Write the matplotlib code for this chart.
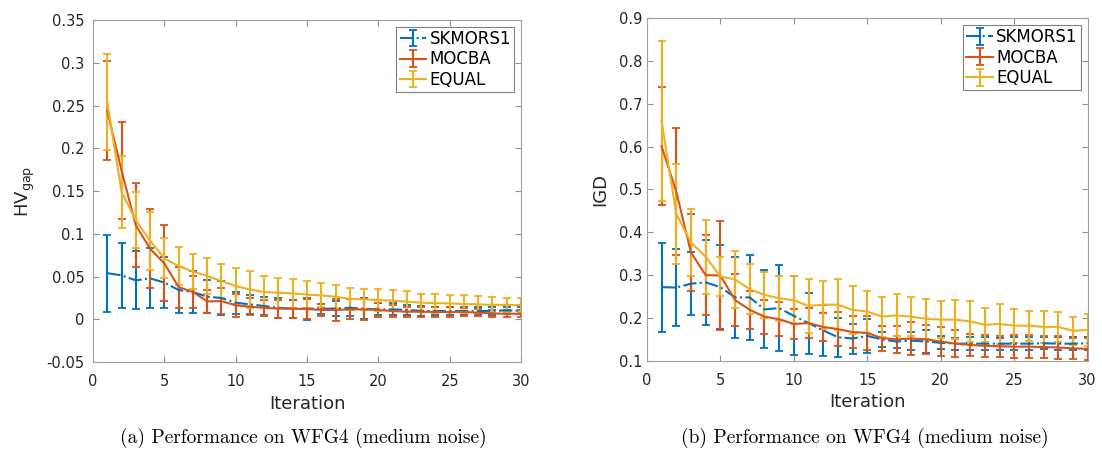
import matplotlib
matplotlib.use('Agg')
import matplotlib.pyplot as plt
import numpy as np

iters = np.arange(1, 31)

# HV_gap (left panel) - mean and error
hv_sk = [0.054, 0.0515, 0.0456, 0.048, 0.043, 0.0343, 0.032, 0.0265, 0.025, 0.0195,
         0.0175, 0.0156, 0.0136, 0.0125, 0.0125, 0.0125, 0.0125, 0.0136, 0.0125, 0.0117,
         0.0117, 0.011, 0.010, 0.0097, 0.0097, 0.0097, 0.0097, 0.010, 0.0105, 0.010]
hv_sk_err = [0.045, 0.038, 0.034, 0.035, 0.030, 0.027, 0.025, 0.019, 0.020, 0.013,
             0.011, 0.011, 0.0115, 0.0105, 0.013, 0.006, 0.0085, 0.010, 0.0125, 0.007,
             0.007, 0.006, 0.006, 0.005, 0.005, 0.005, 0.005, 0.0045, 0.004, 0.004]
hv_mo = [0.244, 0.174, 0.11, 0.0826, 0.0655, 0.0378, 0.032, 0.021, 0.0214, 0.0164,
         0.0148, 0.0136, 0.0125, 0.0125, 0.012, 0.011, 0.011, 0.0117, 0.0117, 0.011,
         0.0097, 0.009, 0.009, 0.0086, 0.0086, 0.0086, 0.0078, 0.007, 0.0066, 0.0066]
hv_mo_err = [0.058, 0.057, 0.049, 0.046, 0.0445, 0.024, 0.019, 0.0135, 0.0155, 0.0135,
             0.010, 0.0095, 0.0105, 0.0105, 0.012, 0.0075, 0.0125, 0.0117, 0.0125, 0.0078,
             0.0066, 0.006, 0.006, 0.0058, 0.0058, 0.005, 0.004, 0.004, 0.0042, 0.0042]
hv_eq = [0.254, 0.149, 0.116, 0.092, 0.0713, 0.0624, 0.056, 0.0507, 0.0448, 0.039,
         0.035, 0.032, 0.031, 0.0304, 0.029, 0.028, 0.0265, 0.024, 0.0234, 0.0226,
         0.0218, 0.0207, 0.0195, 0.019, 0.0187, 0.018, 0.0175, 0.017, 0.0168, 0.0168]
hv_eq_err = [0.056, 0.042, 0.033, 0.034, 0.0235, 0.022, 0.021, 0.0205, 0.0195, 0.021,
             0.0215, 0.0187, 0.0177, 0.0172, 0.016, 0.014, 0.0135, 0.013, 0.0126, 0.0124,
             0.0122, 0.0123, 0.0105, 0.011, 0.0103, 0.010, 0.0095, 0.009, 0.0082, 0.0082]

# IGD (right panel)
igd_sk = [0.272, 0.271, 0.28, 0.283, 0.272, 0.248, 0.248, 0.22, 0.223, 0.205,
          0.188, 0.171, 0.155, 0.152, 0.158, 0.15, 0.145, 0.147, 0.145, 0.142,
          0.14, 0.14, 0.14, 0.14, 0.14, 0.14, 0.141, 0.14, 0.14, 0.141]
igd_sk_err = [0.104, 0.09, 0.074, 0.1, 0.098, 0.095, 0.1, 0.091, 0.101, 0.092,
              0.071, 0.06, 0.045, 0.035, 0.039, 0.018, 0.014, 0.021, 0.026, 0.015,
              0.014, 0.015, 0.015, 0.014, 0.015, 0.015, 0.014, 0.015, 0.015, 0.015]
igd_mo = [0.601, 0.495, 0.353, 0.30, 0.299, 0.242, 0.219, 0.203, 0.197, 0.186,
          0.188, 0.179, 0.174, 0.167, 0.165, 0.153, 0.15, 0.152, 0.15, 0.145,
          0.14, 0.137, 0.135, 0.134, 0.133, 0.133, 0.132, 0.131, 0.129, 0.128]
igd_mo_err = [0.138, 0.148, 0.09, 0.094, 0.127, 0.06, 0.044, 0.04, 0.04, 0.035,
              0.035, 0.032, 0.039, 0.038, 0.04, 0.029, 0.032, 0.038, 0.034, 0.033,
              0.032, 0.026, 0.026, 0.024, 0.027, 0.027, 0.025, 0.026, 0.025, 0.026]
igd_eq = [0.66, 0.443, 0.376, 0.343, 0.297, 0.29, 0.267, 0.254, 0.246, 0.241,
          0.228, 0.231, 0.231, 0.219, 0.215, 0.203, 0.206, 0.203, 0.198, 0.196,
          0.196, 0.192, 0.184, 0.186, 0.182, 0.182, 0.179, 0.179, 0.17, 0.172]
igd_eq_err = [0.186, 0.116, 0.079, 0.086, 0.046, 0.067, 0.058, 0.054, 0.052, 0.056,
              0.062, 0.056, 0.059, 0.056, 0.049, 0.047, 0.049, 0.045, 0.047, 0.043,
              0.045, 0.047, 0.04, 0.046, 0.04, 0.035, 0.037, 0.035, 0.033, 0.038]

names = ['SKMORS1', 'MOCBA', 'EQUAL']
colors = ['#0072BD', '#D95319', '#EDB120']
styles = ['-.', '-', '-']

plt.rcParams['font.family'] = ['DejaVu Sans']
fig = plt.figure(figsize=(11.02, 4.51), dpi=100)
ax1 = fig.add_axes([0.0844, 0.197, 0.3884, 0.7587])
ax2 = fig.add_axes([0.587, 0.2, 0.400, 0.760])


def panel(ax, series, ylim, yticks, ylabel, ypad, ylabpad):
    for (m, e), name, c, ls in zip(series, names, colors, styles):
        ax.errorbar(iters, m, yerr=e, color=c, linestyle=ls, linewidth=1.5,
                    elinewidth=1.5, capsize=3, capthick=1.3, label=name)
    ax.set_xlim(0, 30)
    ax.set_ylim(*ylim)
    ax.set_xticks(np.arange(0, 31, 5))
    ax.set_yticks(yticks)
    ax.set_yticklabels(['%g' % t for t in yticks])
    ax.tick_params(direction='in', length=4, width=0.8, colors='#909090',
                   labelcolor='#262626', labelsize=10.5, top=True, right=True)
    ax.tick_params(axis='x', pad=8.5)
    ax.tick_params(axis='y', pad=ypad)
    for s in ax.spines.values():
        s.set_color('#a0a0a0')
        s.set_linewidth(0.8)
    ax.set_xlabel('Iteration', fontsize=13, color='#262626', labelpad=4)
    ax.set_ylabel(ylabel, fontsize=13, color='#262626', labelpad=ylabpad)
    leg = ax.legend(loc='upper right', fontsize=12, fancybox=False, framealpha=1,
                    edgecolor='#808080', handlelength=1.6, handletextpad=0.2,
                    borderpad=0.2, labelspacing=0.15, borderaxespad=0.4)
    leg.get_frame().set_linewidth(0.8)


panel(ax1, [(hv_sk, hv_sk_err), (hv_mo, hv_mo_err), (hv_eq, hv_eq_err)],
      (-0.05, 0.35), [-0.05, 0, 0.05, 0.1, 0.15, 0.2, 0.25, 0.3, 0.35],
      r'HV$_{\rm gap}$', 6, 7)
panel(ax2, [(igd_sk, igd_sk_err), (igd_mo, igd_mo_err), (igd_eq, igd_eq_err)],
      (0.1, 0.9), [0.1, 0.2, 0.3, 0.4, 0.5, 0.6, 0.7, 0.8, 0.9], 'IGD', 3.5, 7)

fig.text(0.275, 0.029, '(a) Performance on WFG4 (medium noise)', ha='center',
         va='center', fontsize=14, family='cmr10')
fig.text(0.785, 0.029, '(b) Performance on WFG4 (medium noise)', ha='center',
         va='center', fontsize=14, family='cmr10')

fig.savefig('out.png', dpi=100)
